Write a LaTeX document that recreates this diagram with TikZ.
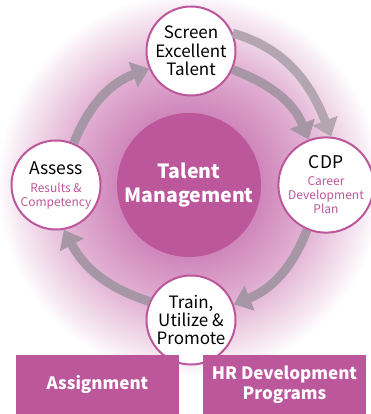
\documentclass[tikz,border=0pt]{standalone}
\usepackage{fontspec}
\setmainfont{Noto Sans CJK KR}
\usetikzlibrary{arrows.meta,positioning,shapes}
\definecolor{tmpink}{HTML}{BD579B}
\definecolor{flowgray}{HTML}{A796A5}
\definecolor{flowlight}{HTML}{B3A6B1}
\definecolor{glowA}{HTML}{C66BA9}
\definecolor{glowB}{HTML}{CF86BB}
\definecolor{glowC}{HTML}{E3B4D5}
\definecolor{glowD}{HTML}{F7EBF3}
% stops scaled so that 25bp is the rim of the shaded circle
\pgfdeclareradialshading{tmglow}{\pgfpoint{0bp}{0bp}}{color(0bp)=(glowA); color(9bp)=(glowB); color(16bp)=(glowC); color(22bp)=(glowD); color(24bp)=(white); color(50bp)=(white)}
\tikzset{
  basic/.style  = {circle, inner sep=0pt, align=center},
  hub/.style    = {basic, fill=tmpink, text=white, minimum size=144pt,
                   font=\bfseries\fontsize{19.5}{24}\selectfont},
  stage/.style  = {basic, draw=tmpink, line width=2pt, fill=white, minimum size=89pt,
                   font=\fontsize{17}{18.3}\selectfont},
  substage/.style = {stage, text=tmpink, font=\fontsize{12}{14}\selectfont},
  box/.style    = {rectangle, fill=tmpink, text=white, minimum width=163pt,
                   minimum height=59pt, align=center, inner sep=0pt,
                   font=\bfseries\fontsize{17}{20}\selectfont},
  flow/.style   = {draw=flowgray, line width=9pt,
                   -{Triangle[width=26pt,length=17pt]}}
}
\newcommand{\headline}[1]{{\color{black}\fontsize{17.5}{17}\selectfont #1}}

\begin{document}
\begin{tikzpicture}[x=1pt,y=1pt]
\useasboundingbox (0,0) rectangle (370,414);
\shade[shading=tmglow] (189,229) circle (200);

% central hub
\node[hub] (tm) at (189,229) {Talent\\Management};

% the four stages of the cycle
\node[stage] (screen) at (191,363) {Screen\\Excellent\\Talent};
\node[substage] (cdp) at (326,229) {\headline{CDP}\\[3pt]Career\\Development\\Plan};
\node[stage] (train) at (191,94) {Train,\\Utilize \&\\Promote};
\node[substage] (assess) at (56,229) {\headline{Assess}\\[4pt]Results \&\\Competency};

% arrows between stages
\draw[flow, draw=flowlight] (screen.23) to[out=-16,in=111] (cdp.84);
\foreach \from/\to/\o/\i in {assess.67/screen.203/68/200,
                             screen.-24/cdp.111/-21/112,
                             cdp.247/train.20/249/22,
                             train.156/assess.280/162/298}
  \draw[flow] (\from) to[out=\o,in=\i] (\to);

% programs below
\node[box] (assign) at (97.5,29.5) {Assignment};
\node[box] (hrdev) at (284.5,29.5) {HR Development\\Programs};
\end{tikzpicture}
\end{document}
